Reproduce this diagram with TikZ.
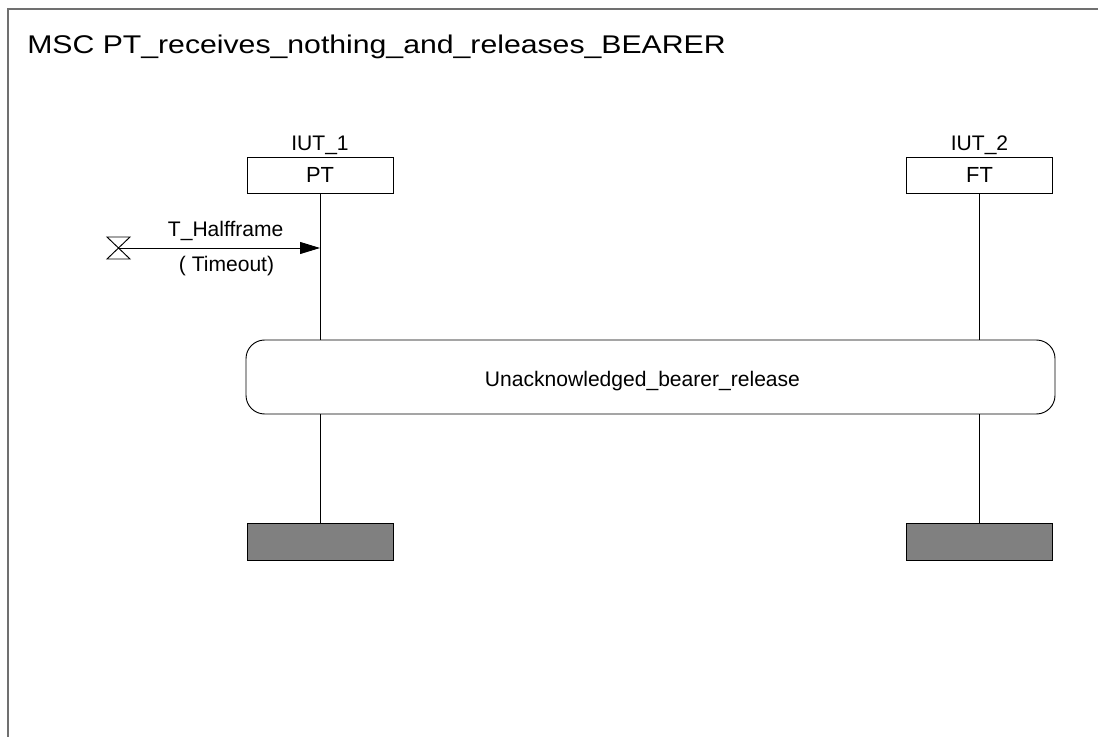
\documentclass[tikz,border=0pt]{standalone}
\usepackage{fontspec}
\setmainfont{Liberation Sans}
\newfontfamily\titlefont[FakeStretch=1.18]{Liberation Sans}
\usetikzlibrary{arrows.meta, positioning, calc}
\definecolor{endgray}{RGB}{128,128,128}
\definecolor{framegray}{RGB}{112,112,112}
\tikzset{
  inst/.style    = {draw, rectangle, line width=0.7pt, inner sep=0pt,
                    minimum width=109.5pt, minimum height=27pt,
                    font=\fontsize{16.4}{19}\selectfont},
  instend/.style = {draw, rectangle, line width=0.7pt, fill=endgray,
                    minimum width=109.5pt, minimum height=27.75pt},
  condbox/.style = {draw, rectangle, rounded corners=14pt, line width=0.7pt,
                    minimum width=606.75pt, minimum height=55.5pt},
  life/.style    = {line width=0.7pt},
  msg/.style     = {-{Triangle[length=15pt, width=9pt]}, line width=0.7pt},
  lbl/.style     = {font=\fontsize{15.8}{19}\selectfont, inner sep=0pt, anchor=base},
  mscframe/.style = {draw=framegray, line width=1.5pt}
}

\begin{document}
\begin{tikzpicture}[x=0.75pt, y=-0.75pt]
  \useasboundingbox (0,0) rectangle (1098,737);

  % ── Frame and title ───────────────────────────────────────────────────────
  \draw[mscframe] (8,737) -- (8,9.5) -- (1098,9.5);
  \node[inner sep=0pt, anchor=base west, font=\titlefont\fontsize{19.2}{23}\selectfont]
       (title) at (27,53.3) {MSC PT\_receives\_nothing\_and\_releases\_BEARER};

  % ── Instances ─────────────────────────────────────────────────────────────
  \node[inst] (pt) at (320,175)   {PT};
  \node[inst] (ft) at (979.5,175) {FT};
  \node[lbl]  (iut1) at (320,150.7)   {IUT\_1};
  \node[lbl]  (iut2) at (979.5,150.7) {IUT\_2};

  % ── Condition ─────────────────────────────────────────────────────────────
  \node[condbox] (cond) at (650.5,377) {};
  \node[lbl] (condtxt) at (642.5,386.7) {Unacknowledged\_bearer\_release};

  % ── Instance ends ─────────────────────────────────────────────────────────
  \node[instend] (ptend) at (320,541.5)   {};
  \node[instend] (ftend) at (979.5,541.5) {};

  % ── Lifelines ─────────────────────────────────────────────────────────────
  \draw[life] (pt.south) -- (pt.south |- cond.north);
  \draw[life] (ft.south) -- (ft.south |- cond.north);
  \draw[life] (pt.south |- cond.south) -- (ptend);
  \draw[life] (ft.south |- cond.south) -- (ftend);

  % ── Timer timeout ─────────────────────────────────────────────────────────
  \coordinate (tmr) at (118.5,248);
  \draw[life] ($(tmr)+(-11.5,-11)$) -- ++(23,0) -- ++(-23,22) -- ++(23,0) -- cycle;
  \draw[msg] (tmr) -- (tmr -| pt);
  \node[lbl] (tname) at (225.7,236.7) {T\_Halfframe};
  \node[lbl] (tout)  at (226.5,271.7) {( Timeout)};

\end{tikzpicture}
\end{document}
